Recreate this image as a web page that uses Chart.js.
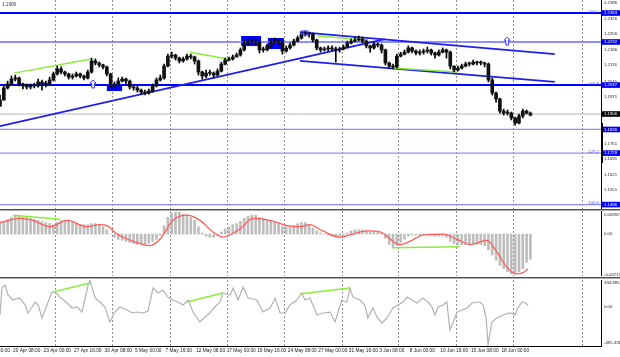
<!DOCTYPE html>
<html>
<head>
<meta charset="utf-8">
<script src="https://cdn.jsdelivr.net/npm/chart.js@4.4.1/dist/chart.umd.min.js"></script>
<style>
html,body{margin:0;padding:0;background:#fff;}
#wrap{position:relative;width:620px;height:357px;overflow:hidden;background:#fff;}
#wrap canvas{position:absolute;left:0;}
.sep{position:absolute;left:0;width:620px;height:1px;}
#quote{position:absolute;left:2px;top:2px;font-family:"Liberation Sans",Arial,sans-serif;font-size:4.6px;line-height:6px;color:#333;}
</style>
</head>
<body>
<div id="wrap">
  <canvas id="cMain" width="620" height="209" style="top:0px;width:620px;height:209px"></canvas>
  <canvas id="cMacd" width="620" height="65" style="top:211px;width:620px;height:65px"></canvas>
  <canvas id="cCci" width="620" height="77" style="top:280px;width:620px;height:77px"></canvas>
  <div class="sep" style="top:209px;background:#4d4d4d"></div>
  <div class="sep" style="top:210px;background:#b0b0b0"></div>
  <div class="sep" style="top:277px;background:#4d4d4d"></div>
  <div class="sep" style="top:278px;background:#b0b0b0"></div>
  <div id="quote"></div>
</div>
<script>
// ================= DATA (EUR/USD, H4, one entry per two H4 bars) =================
const closes = [
 1.1969,1.2024,1.2042,1.2064,1.2069,1.2042,1.2033,1.2028,1.2033,1.2033,
 1.2051,1.2042,1.2042,1.2060,1.2087,1.2110,1.2096,1.2087,1.2073,1.2078,
 1.2087,1.2078,1.2069,1.2096,1.2146,1.2137,1.2128,1.2119,1.2087,1.2033,
 1.2042,1.2055,1.2064,1.2055,1.2028,1.2024,1.2014,1.2005,1.2001,1.2010,
 1.2033,1.2060,1.2069,1.2123,1.2168,1.2173,1.2159,1.2146,1.2155,1.2168,
 1.2164,1.2146,1.2096,1.2078,1.2091,1.2091,1.2082,1.2100,1.2132,1.2150,
 1.2155,1.2164,1.2173,1.2196,1.2227,1.2232,1.2232,1.2232,1.2196,1.2196,
 1.2214,1.2232,1.2241,1.2232,1.2191,1.2205,1.2218,1.2236,1.2250,1.2268,
 1.2272,1.2268,1.2241,1.2205,1.2196,1.2200,1.2205,1.2200,1.2196,1.2200,
 1.2209,1.2227,1.2236,1.2241,1.2245,1.2236,1.2214,1.2205,1.2223,1.2218,
 1.2196,1.2137,1.2123,1.2119,1.2168,1.2177,1.2186,1.2205,1.2191,1.2182,
 1.2186,1.2191,1.2196,1.2182,1.2173,1.2186,1.2196,1.2186,1.2123,1.2105,
 1.2114,1.2123,1.2132,1.2132,1.2141,1.2137,1.2137,1.2132,1.2060,1.2001,
 1.1974,1.1919,1.1910,1.1910,1.1888,1.1865,1.1897,1.1919,1.1910,1.1901];
const highs = [
 1.1992,1.2037,1.2055,1.2078,1.2082,1.2073,1.2046,1.2042,1.2042,1.2046,
 1.2064,1.2060,1.2055,1.2073,1.2096,1.2123,1.2119,1.2100,1.2091,1.2087,
 1.2096,1.2091,1.2082,1.2105,1.2159,1.2155,1.2141,1.2132,1.2123,1.2091,
 1.2051,1.2069,1.2073,1.2069,1.2060,1.2037,1.2033,1.2019,1.2014,1.2019,
 1.2042,1.2069,1.2082,1.2132,1.2177,1.2186,1.2177,1.2164,1.2164,1.2177,
 1.2177,1.2168,1.2150,1.2100,1.2105,1.2105,1.2096,1.2110,1.2141,1.2159,
 1.2164,1.2173,1.2182,1.2205,1.2241,1.2245,1.2245,1.2245,1.2236,1.2209,
 1.2223,1.2245,1.2250,1.2245,1.2236,1.2214,1.2227,1.2245,1.2259,1.2277,
 1.2282,1.2277,1.2272,1.2245,1.2209,1.2209,1.2214,1.2214,1.2209,1.2209,
 1.2218,1.2236,1.2245,1.2254,1.2259,1.2254,1.2241,1.2218,1.2232,1.2227,
 1.2223,1.2200,1.2141,1.2132,1.2177,1.2186,1.2196,1.2214,1.2209,1.2196,
 1.2196,1.2200,1.2209,1.2200,1.2186,1.2196,1.2205,1.2200,1.2191,1.2123,
 1.2123,1.2132,1.2141,1.2141,1.2150,1.2146,1.2146,1.2141,1.2137,1.2069,
 1.2005,1.1978,1.1928,1.1924,1.1915,1.1892,1.1906,1.1928,1.1924,1.1915];
const lows = [
 1.1942,1.1969,1.2019,1.2037,1.2055,1.2033,1.2019,1.2019,1.2019,1.2024,
 1.2028,1.2014,1.2028,1.2037,1.2055,1.2082,1.2087,1.2078,1.2064,1.2064,
 1.2073,1.2069,1.2060,1.2064,1.2091,1.2128,1.2119,1.2110,1.2078,1.2024,
 1.2024,1.2033,1.2051,1.2042,1.2019,1.2014,1.2005,1.1996,1.1992,1.1996,
 1.2005,1.2028,1.2055,1.2064,1.2119,1.2159,1.2150,1.2137,1.2141,1.2150,
 1.2155,1.2132,1.2082,1.2064,1.2069,1.2082,1.2069,1.2078,1.2096,1.2128,
 1.2146,1.2150,1.2164,1.2168,1.2191,1.2218,1.2223,1.2218,1.2182,1.2186,
 1.2191,1.2209,1.2227,1.2223,1.2177,1.2186,1.2200,1.2214,1.2232,1.2245,
 1.2259,1.2254,1.2232,1.2196,1.2186,1.2191,1.2191,1.2191,1.2141,1.2186,
 1.2196,1.2205,1.2223,1.2232,1.2236,1.2227,1.2205,1.2186,1.2200,1.2209,
 1.2182,1.2128,1.2114,1.2110,1.2114,1.2164,1.2173,1.2182,1.2182,1.2173,
 1.2173,1.2177,1.2182,1.2173,1.2159,1.2168,1.2182,1.2159,1.2110,1.2096,
 1.2100,1.2110,1.2119,1.2123,1.2128,1.2128,1.2128,1.2119,1.2051,1.1992,
 1.1960,1.1910,1.1901,1.1901,1.1879,1.1856,1.1861,1.1888,1.1906,1.1897];

const macdHist = [
 0.00196,0.00214,0.00250,0.00285,0.00321,0.00303,0.00285,0.00285,0.00267,0.00250,
 0.00232,0.00214,0.00196,0.00178,0.00160,0.00196,0.00232,0.00232,0.00214,0.00196,
 0.00178,0.00160,0.00160,0.00160,0.00178,0.00178,0.00160,0.00125,0.00071,0.00000,
 -0.00053,-0.00089,-0.00107,-0.00125,-0.00143,-0.00160,-0.00178,-0.00178,-0.00178,-0.00160,
 -0.00125,-0.00089,-0.00018,0.00143,0.00285,0.00357,0.00374,0.00374,0.00339,0.00321,
 0.00285,0.00232,0.00125,0.00018,-0.00036,-0.00053,-0.00053,-0.00018,0.00036,0.00089,
 0.00125,0.00160,0.00178,0.00214,0.00267,0.00303,0.00321,0.00321,0.00285,0.00267,
 0.00232,0.00214,0.00196,0.00178,0.00125,0.00125,0.00125,0.00143,0.00178,0.00196,
 0.00196,0.00160,0.00107,0.00053,0.00018,0.00000,-0.00018,-0.00036,-0.00036,-0.00036,
 -0.00018,0.00018,0.00053,0.00071,0.00071,0.00071,0.00053,0.00036,0.00036,0.00036,
 0.00018,-0.00071,-0.00178,-0.00232,-0.00196,-0.00143,-0.00089,-0.00036,-0.00018,-0.00018,
 -0.00018,-0.00018,-0.00018,-0.00018,-0.00036,-0.00036,-0.00036,-0.00053,-0.00125,-0.00160,
 -0.00178,-0.00178,-0.00178,-0.00178,-0.00178,-0.00178,-0.00178,-0.00196,-0.00267,-0.00357,
 -0.00446,-0.00535,-0.00588,-0.00642,-0.00677,-0.00677,-0.00642,-0.00588,-0.00481,-0.00428];

const signalK = [0,5.2,8.6,13.1,17.6,22.8,26.2,28,30.7,34.9,39.3,41.9,45.3,49,52.4,55.8,58.4,62.9,66.3,70.8,
 75.2,78.6,81.2,84.6,89.1,92.5,96.2,99.6,104.8,107.4,110.8,116.1,119.8,123.2,127.6,130.2,132.9,135,137,138.4];
const signalV = [0.00196,0.00267,0.00232,0.00125,0.00232,0.00125,0.00160,0.00143,0,-0.00125,
 -0.00196,-0.00089,0.00232,0.00321,0.00232,0.00036,-0.00053,0.00089,0.00267,0.00232,
 0.00143,0.00125,0.00160,0.00053,-0.00053,0,0.00053,0.00036,-0.00178,-0.00125,
 -0.00018,0,-0.00089,-0.00178,-0.00107,-0.00303,-0.00570,-0.00677,-0.00660,-0.00588];

const cciK = [0,0.5,1.3,2.1,3.4,5.2,6.6,7.3,8.4,9.2,10,11,12.3,13.6,14.4,15.7,17.6,18.9,20.2,21.5,
 23.1,23.6,24.9,26.2,27.5,28.8,30.1,31.4,33.3,34.6,35.9,37.5,38.8,40.1,41.4,42.7,44,45.3,46.6,48,
 49.3,50.6,52.4,53.7,55,56.3,57.7,58.4,60.3,61.1,62.4,63.7,65,67.3,68.9,70.8,72.1,73.4,74.7,76,
 77.8,79.1,79.9,81.2,83.1,84.6,86.5,87.8,88.6,89.6,90.9,91.7,92.5,94.3,95.6,96.4,97.7,98.8,100.1,101.4,
 103,104.3,105.6,106.7,108,109.3,110.8,112.2,113.2,114,114.8,116.1,117.1,117.9,118.7,119.8,121.1,122.4,123.7,125,
 125.8,126.6,127.4,127.9,128.9,130.2,131.8,133.6,135,135.7,136.8,137.6,138.4];
const cciV = [-105,234,272,146,83,109,20,-80,-5,58,20,-143,20,184,184,121,46,-17,-5,-68,
 272,330,109,58,-5,-193,-68,-5,-42,-80,-68,-80,-55,234,171,209,121,83,58,20,
 83,-68,-193,-130,-80,-5,58,171,146,234,83,247,109,83,-68,-17,109,-80,-80,20,
 83,171,83,109,-105,-80,-68,-193,-68,83,58,234,121,83,20,-143,-17,-130,-206,-143,
 -17,20,58,121,83,46,109,58,-5,-105,-5,20,58,-294,-206,-68,-42,-17,46,58,
 58,20,-143,-480,-193,-143,-105,-80,-105,-17,58,46,20];

const priceTicks = [1.2396,1.2326,1.2256,1.2186,1.2116,1.2041,1.1971,1.1761,1.1691,1.1621,1.1551];
const levelPrices = [1.2363,1.2232,1.2037,1.1836,1.1729,1.1496];
const levelFib = ['200.0','','161.8','','127.2','100.0'];
const lastPrice = 1.1906;

const timeLabels = ['15 Apr 16:00','20 Apr 08:00','23 Apr 00:00','27 Apr 16:00','30 Apr 08:00','5 May 00:00',
 '7 May 16:00','12 May 08:00','17 May 00:00','19 May 16:00','24 May 08:00','27 May 00:00','31 May 16:00',
 '3 Jun 08:00','8 Jun 00:00','10 Jun 16:00','15 Jun 08:00','18 Jun 00:00'];
const timeLabelK = [-4.6,3.4,11.4,19.4,27.4,35.4,43.4,51.4,59.4,67.4,75.4,83.4,91.4,99.4,107.4,115.4,123.4,131.4];
const gridK = [14.4,29.4,44.5,59.5,74.4,89.6,104.3,119.5,134.4,152.5];

// drawn objects (chart coordinates: bar slot, price / indicator value)
const trendStartK = [0,78.6,78.6], trendStartP = [1.1851,1.2277,1.2146];
const trendEndK = [100.9,145.4,145.4], trendEndP = [1.2245,1.2177,1.2051];
const greenStartK = [3.7,49.8,83.3,103], greenStartP = [1.2091,1.2186,1.2259,1.2114];
const greenEndK = [23.8,59.7,96.4,119.8], greenEndP = [1.2155,1.2155,1.2241,1.2096];
const macdGreenStartK = [3.4,102.7], macdGreenStartV = [0.00321,-0.00232];
const macdGreenEndK = [15.7,120.5], macdGreenEndV = [0.00250,-0.00214];
const cciGreenStartK = [13.9,49,78.6], cciGreenStartV = [184,58,159];
const cciGreenEndK = [23.6,58.4,91.7], cciGreenEndV = [297,171,234];
const zoneStartK = [28.0,63.2,70.2], zoneEndK = [32.0,68.4,74.4];
const zoneTopP = [1.2042,1.2259,1.2250], zoneBottomP = [1.2010,1.2214,1.2200];
const frameK = [79.1,80.7], frameP = [1.2282,1.2263];
const arrowK = [24.4,132.9], arrowP = [1.2042,1.2236];
const axisRangeP = [1.1865,1.1684];

const macdTickVals = [0.003325,0,-0.006875], macdTickText = ['0.00392','0.00','-0.00713'];
const cciTickVals = [303.5,0,-457.6], cciTickText = ['334.9851','0.00','-495.331'];

// ================= STYLE / SETUP =================
const FONT = '"Liberation Sans", Arial, sans-serif';
const K_MAX = 157.5;
const PRICE_MIN = 1.1476, PRICE_MAX = 1.2422;
const levelColor = ['#0000ff','#6a6aff','#0000ff','#8c8cff','#8c8cff','#8c8cff'];
const levelWidth = [2,1.5,2,1.2,1.2,1.2];
const GREEN = '#8cec3a', TREND = '#1e1ef0';

document.getElementById('quote').textContent = lastPrice.toFixed(4);

const common = {
  responsive:false, maintainAspectRatio:false, animation:false, devicePixelRatio:1, events:[],
  layout:{padding:0},
  plugins:{legend:{display:false}, tooltip:{enabled:false}, title:{display:false}}
};
function hiddenX(){ return {type:'linear', min:0, max:K_MAX, offset:false, display:false}; }
function rightAxis(min, max, vals, labelFn, labelOffset){
  return {
    type:'linear', position:'right', min, max,
    grid:{display:false, drawTicks:false},
    border:{display:true, color:'#000', width:1},
    ticks:{padding:3, autoSkip:false, font:{family:FONT, size:4.3}, color:'#222', labelOffset:labelOffset||0, callback:labelFn},
    afterBuildTicks:s=>{ s.ticks = vals.map(v=>({value:v})); },
    afterFit:s=>{ s.width = 19; s.paddingTop = 0; s.paddingBottom = 0; s.paddingLeft = 0; s.paddingRight = 0; }
  };
}
function seg(x1,y1,x2,y2,color,width,order){
  return {type:'line', data:[{x:x1,y:y1},{x:x2,y:y2}], borderColor:color, borderWidth:width, pointRadius:0, tension:0, order};
}
const gridPlugin = {
  id:'vgrid',
  beforeDatasetsDraw(chart){
    const {ctx, chartArea:a, scales:{x}} = chart;
    ctx.save(); ctx.strokeStyle = '#8f8f8f'; ctx.lineWidth = 1; ctx.setLineDash([2,2]);
    gridK.forEach(k=>{ const px = Math.round(x.getPixelForValue(k)) + 0.5;
      ctx.beginPath(); ctx.moveTo(px, a.top); ctx.lineTo(px, a.bottom); ctx.stroke(); });
    ctx.restore();
  }
};
const mainDeco = {
  id:'mainDeco',
  beforeDatasetsDraw(chart){
    const {ctx, scales:{x,y}} = chart;
    ctx.save(); ctx.fillStyle = '#0000ff';
    zoneStartK.forEach((k,i)=>{
      const x1 = x.getPixelForValue(k), x2 = x.getPixelForValue(zoneEndK[i]);
      const y1 = y.getPixelForValue(zoneTopP[i]), y2 = y.getPixelForValue(zoneBottomP[i]);
      ctx.fillRect(x1, y1, x2-x1, y2-y1);
    });
    ctx.restore();
  },
  afterDatasetsDraw(chart){
    const {ctx, scales:{x,y}} = chart;
    ctx.save();
    ctx.strokeStyle = '#3a3aff'; ctx.lineWidth = 1;
    const fx1 = x.getPixelForValue(frameK[0]), fx2 = x.getPixelForValue(frameK[1]);
    const fy1 = y.getPixelForValue(frameP[0]), fy2 = y.getPixelForValue(frameP[1]);
    ctx.strokeRect(fx1, fy1, fx2-fx1, fy2-fy1);
    arrowK.forEach((k,i)=>{
      const cx = x.getPixelForValue(k), cy = y.getPixelForValue(arrowP[i]);
      ctx.beginPath();
      ctx.moveTo(cx, cy-4); ctx.lineTo(cx+3, cy-0.8); ctx.lineTo(cx+1.3, cy-0.8); ctx.lineTo(cx+1.3, cy+4);
      ctx.lineTo(cx-1.3, cy+4); ctx.lineTo(cx-1.3, cy-0.8); ctx.lineTo(cx-3, cy-0.8); ctx.closePath();
      ctx.fillStyle = '#fff'; ctx.fill(); ctx.stroke();
    });
    ctx.restore();
  },
  afterDraw(chart){
    const {ctx, chartArea:a, scales:{y}} = chart;
    ctx.save();
    ctx.font = '4.3px ' + FONT; ctx.textBaseline = 'middle';
    levelPrices.forEach((v,i)=>{
      const py = y.getPixelForValue(v);
      ctx.fillStyle = '#0000ee'; ctx.fillRect(a.right+1, py-2.8, 18, 5.6);
      ctx.fillStyle = '#fff'; ctx.textAlign = 'left'; ctx.fillText(v.toFixed(4), a.right+3, py+0.2);
      if (levelFib[i]) { ctx.fillStyle = '#4646ff'; ctx.textAlign = 'right'; ctx.fillText(levelFib[i], a.right-2, py-1.6); }
    });
    const lp = y.getPixelForValue(lastPrice);
    ctx.fillStyle = '#000'; ctx.fillRect(a.right+1, lp-2.8, 18, 5.6);
    ctx.fillStyle = '#fff'; ctx.textAlign = 'left'; ctx.fillText(lastPrice.toFixed(4), a.right+3, lp+0.2);
    const r1 = y.getPixelForValue(axisRangeP[0]), r2 = y.getPixelForValue(axisRangeP[1]);
    ctx.fillStyle = '#000'; ctx.fillRect(a.right, r1, 2, r2-r1);
    ctx.restore();
  }
};

Chart.defaults.font.family = FONT;

// ================= MAIN PRICE PANEL =================
const opens = closes.map((c,i)=> i ? closes[i-1] : lows[0]);
const mainSets = [
  {type:'bar', data: closes.map((c,i)=>({x:i, y:[opens[i], c]})), backgroundColor:'#111', barThickness:3, minBarLength:1, grouped:false, order:0},
  {type:'bar', data: lows.map((l,i)=>({x:i, y:[l, highs[i]]})), backgroundColor:'#000', barThickness:1, grouped:false, order:1},
  seg(0,lastPrice,K_MAX,lastPrice,'#b4b4b4',1,9)
];
levelPrices.forEach((v,i)=> mainSets.push(seg(0,v,K_MAX,v,levelColor[i],levelWidth[i],8)));
trendStartK.forEach((k,i)=> mainSets.push(seg(k,trendStartP[i],trendEndK[i],trendEndP[i],TREND,1.8,6)));
greenStartK.forEach((k,i)=> mainSets.push(seg(k,greenStartP[i],greenEndK[i],greenEndP[i],GREEN,1.5,5)));

new Chart(document.getElementById('cMain'), {
  type:'bar',
  data:{datasets:mainSets},
  options:{...common, scales:{x:hiddenX(), y:rightAxis(PRICE_MIN, PRICE_MAX, priceTicks, v=>v.toFixed(4), -2.5)}},
  plugins:[gridPlugin, mainDeco]
});

// ================= MACD PANEL =================
const macdSets = [
  {type:'bar', data: macdHist.map((v,i)=>({x:i, y:v})), backgroundColor:'#bdbdbd', barThickness:2, grouped:false, order:3},
  {type:'line', data: signalK.map((k,i)=>({x:k, y:signalV[i]})), borderColor:'#ff5c5c', borderWidth:1.3, pointRadius:0, tension:0.4, cubicInterpolationMode:'monotone', order:1}
];
macdGreenStartK.forEach((k,i)=> macdSets.push(seg(k,macdGreenStartV[i],macdGreenEndK[i],macdGreenEndV[i],GREEN,1.5,0)));
new Chart(document.getElementById('cMacd'), {
  type:'bar',
  data:{datasets:macdSets},
  options:{...common, scales:{x:hiddenX(), y:rightAxis(-0.00713, 0.00392, macdTickVals, (v,i)=>macdTickText[i])}},
  plugins:[gridPlugin]
});

// ================= CCI PANEL =================
const cciSets = [
  {type:'line', data: cciK.map((k,i)=>({x:k, y:cciV[i]})), borderColor:'#b2b2b2', borderWidth:1.2, pointRadius:0, tension:0, order:2}
];
cciGreenStartK.forEach((k,i)=> cciSets.push(seg(k,cciGreenStartV[i],cciGreenEndK[i],cciGreenEndV[i],GREEN,1.5,0)));
new Chart(document.getElementById('cCci'), {
  type:'line',
  data:{datasets:cciSets},
  options:{...common, scales:{
    x:{type:'linear', position:'bottom', min:0, max:K_MAX, offset:false,
       grid:{display:false, drawTicks:false}, border:{display:true, color:'#000', width:1},
       ticks:{align:'start', padding:2, autoSkip:false, maxRotation:0, minRotation:0, font:{family:FONT, size:4.8}, color:'#222',
              callback:(v,i)=>timeLabels[i]},
       afterBuildTicks:s=>{ s.ticks = timeLabelK.map(v=>({value:v})); },
       afterFit:s=>{ s.height = 11; s.paddingLeft = 0; s.paddingRight = 0; s.paddingTop = 0; s.paddingBottom = 0; }},
    y:rightAxis(-495.331, 334.985, cciTickVals, (v,i)=>cciTickText[i])
  }},
  plugins:[gridPlugin]
});
</script>
</body>
</html>
